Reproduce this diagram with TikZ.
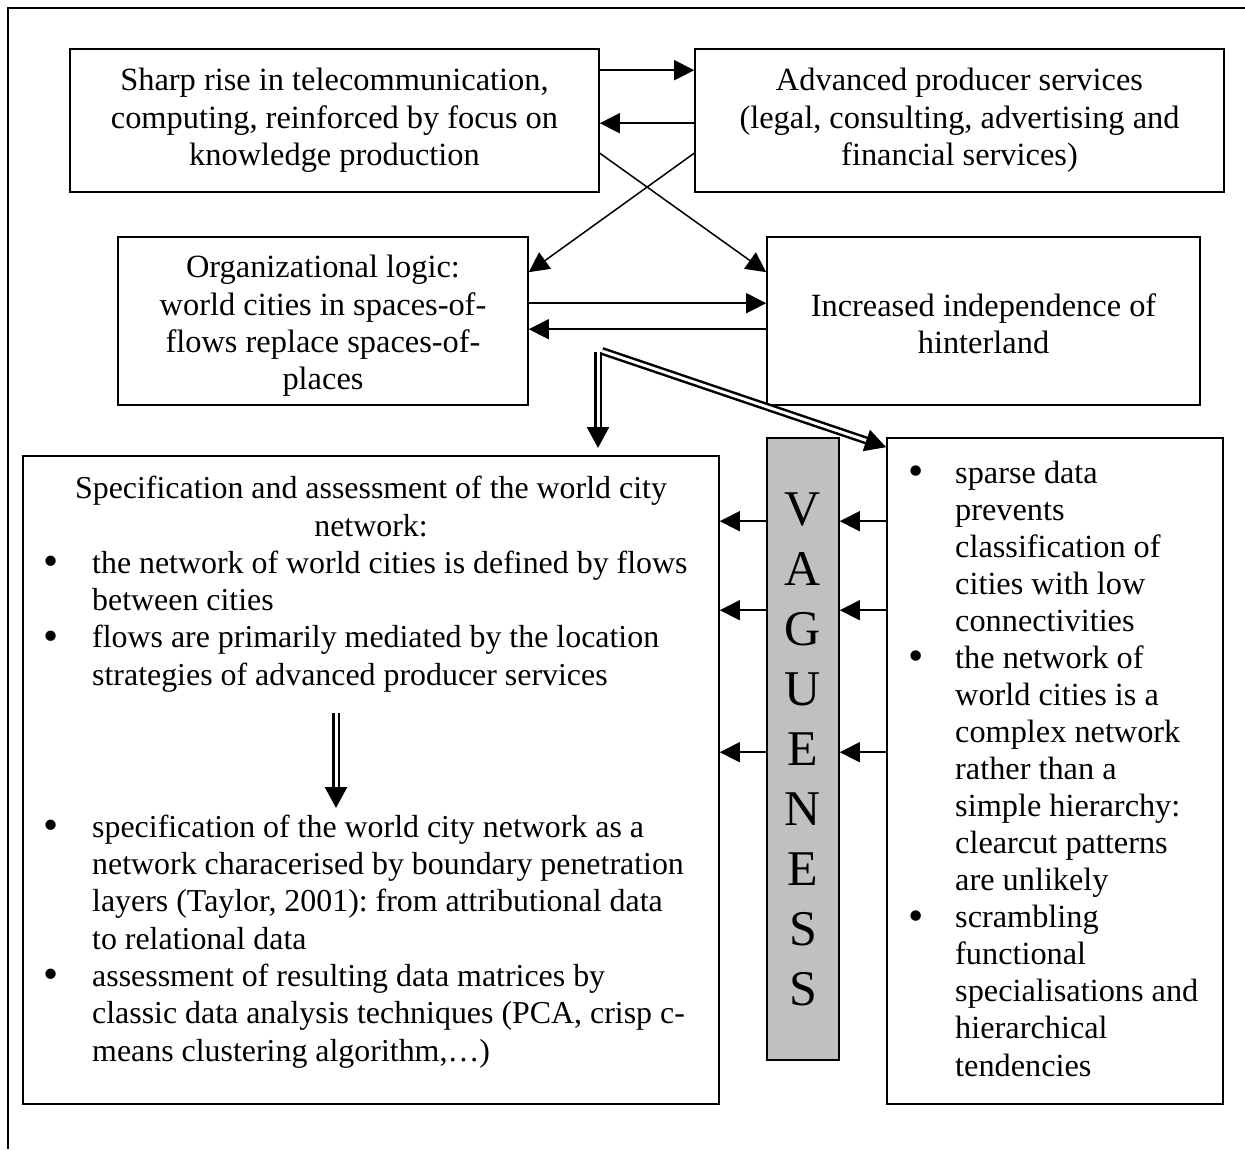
\documentclass[tikz,border=0pt]{standalone}
\usepackage{fontspec}
\setmainfont{Liberation Serif}
\usetikzlibrary{arrows.meta,calc}
\frenchspacing
\newcommand\mytxt{\fontsize{32.4}{37.3}\selectfont}
\newcommand\mytxte{\fontsize{31.9}{37.3}\selectfont}
\newcommand\mytxtf{\fontsize{32.3}{37.06}\selectfont}
\newcommand\bigtxt{\fontsize{50}{60}\selectfont}
\newcommand\bdot{\raisebox{-2.5pt}{\scalebox{1.35}{•}}}
\newcommand\bul{\makebox[49pt][l]{\bdot}}
\newcommand\ind{\hspace*{49pt}}
\newcommand\bulf{\makebox[47pt][l]{\bdot}}
\newcommand\indf{\hspace*{47pt}}
\begin{document}
\begin{tikzpicture}[x=1pt,y=-1pt,
  box/.style={draw,line width=1.6pt,inner sep=0pt,align=center,font=\mytxt},
  btxt/.style={inner sep=0pt,align=center,font=\mytxt},
  arr/.style={line width=1.5pt,-{Triangle[length=20pt,width=20pt]}},
  dbl/.style={double,double distance=3pt,line width=2.5pt,-{Triangle[length=21pt,width=22pt]}},
  frame/.style={line width=2.5pt},
  listtxt/.style={inner sep=0pt,align=left,anchor=base west},
]
\useasboundingbox (0,0) rectangle (1245,1149);
\draw[frame] (1245,8) -- (8,8) -- (8,1149);

\node[box,minimum width=529pt,minimum height=143pt] (A) at (334.5,120.5)
  {Sharp rise in telecommunication,\\computing, reinforced by focus on\\knowledge production};
\node[box,minimum width=529pt,minimum height=143pt] (B) at (959.5,120.5)
  {Advanced producer services\\(legal, consulting, advertising and\\financial services)};
\node[box,minimum width=410pt,minimum height=168pt] (C) at (323,321) {};
\node[btxt] (Ct) at ([yshift=-5pt]C.center)
  {Organizational logic:\\world cities in spaces-of-\\flows replace spaces-of-\\places};
\node[box,minimum width=433pt,minimum height=168pt] (D) at (983.5,321) {};
\node[btxt] (Dt) at ([yshift=-3pt]D.center)
  {Increased independence of\\hinterland};
\node[box,minimum width=696pt,minimum height=648pt] (E) at (371,780) {};
\node[box,minimum width=336pt,minimum height=666pt] (F) at (1055,771) {};
\node[box,fill={rgb,255:red,192;green,192;blue,192},minimum width=72pt,minimum height=622pt,font=\bigtxt] (G) at (803,749)
  {V\\A\\G\\U\\E\\N\\E\\S\\S};

% text in E (anchor base = baseline of last line)
\node[inner sep=0pt,align=center,anchor=base,font=\mytxte] (Eh) at (371,536)
  {Specification and assessment of the world city\\network:};
\node[listtxt,font=\mytxte] (El1) at (43,685)
  {\bul the network of world cities is defined by flows\\
   \ind between cities\\
   \bul flows are primarily mediated by the location\\
   \ind strategies of advanced producer services};
\node[listtxt,font=\mytxte] (El2) at (43,1061)
  {\bul specification of the world city network as a\\
   \ind network characerised by boundary penetration\\
   \ind layers (Taylor, 2001): from attributional data\\
   \ind to relational data\\
   \bul assessment of resulting data matrices by\\
   \ind classic data analysis techniques (PCA, crisp c-\\
   \ind means clustering algorithm,…)};
% text in F
\node[listtxt,font=\mytxtf] (Fl) at (908,1076)
  {\bulf sparse data\\
   \indf prevents\\
   \indf classification of\\
   \indf cities with low\\
   \indf connectivities\\
   \bulf the network of\\
   \indf world cities is a\\
   \indf complex network\\
   \indf rather than a\\
   \indf simple hierarchy:\\
   \indf clearcut patterns\\
   \indf are unlikely\\
   \bulf scrambling\\
   \indf functional\\
   \indf specialisations and\\
   \indf hierarchical\\
   \indf tendencies};

% connectors top
\draw[arr] ([yshift=-22pt]A.north east) -- ([yshift=-22pt]B.north west);
\draw[arr] ([yshift=-75pt]B.north west) -- ([yshift=-75pt]A.north east);
\draw[arr] ([yshift=-105pt]A.north east) -- ([yshift=-36pt]D.north west);
\draw[arr] ([yshift=-105pt]B.north west) -- ([yshift=-36pt]C.north east);
\draw[arr] ([yshift=-67pt]C.north east) -- ([yshift=-67pt]D.north west);
\draw[arr] ([yshift=-93pt]D.north west) -- ([yshift=-93pt]C.north east);

% double arrows
\coordinate (split) at (598,352);
\coordinate (splitb) at (602,351);
\coordinate (dtip) at (598,448);
\draw[dbl] (split) -- (dtip);
\draw[dbl] (splitb) -- ([yshift=-10pt]F.north west);
\coordinate (m1) at (336,713);
\coordinate (m2) at (336,808);
\draw[dbl] (m1) -- (m2);

% vagueness arrows
\foreach \s/\t in {84/66,173/155,315/297}{
  \draw[arr] ([yshift=-\s pt]F.north west) -- ([yshift=-\s pt]G.north east);
  \draw[arr] ([yshift=-\s pt]G.north west) -- ([yshift=-\t pt]E.north east);
}
\end{tikzpicture}
\end{document}
